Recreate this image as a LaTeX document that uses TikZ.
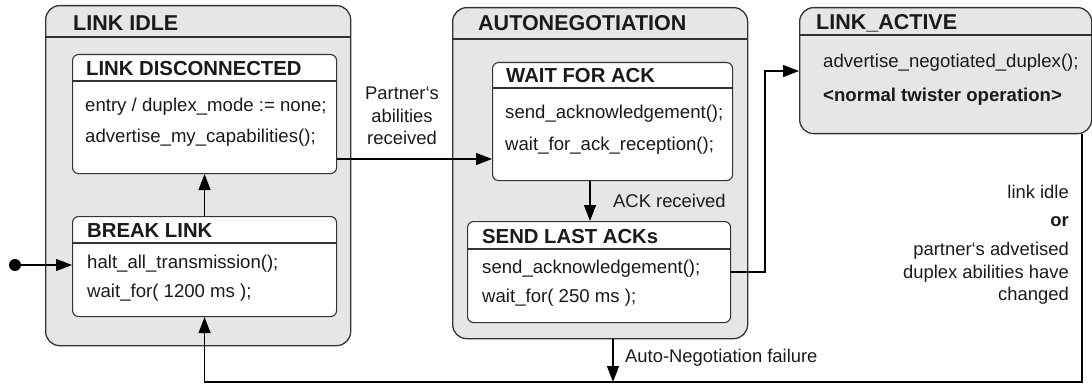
\documentclass[tikz,border=0pt]{standalone}
\usepackage{fontspec}
\setmainfont{Liberation Sans}
\usetikzlibrary{arrows.meta,calc}
\definecolor{stategray}{HTML}{E6E6E6}
\definecolor{edgec}{HTML}{333333}
\definecolor{inkc}{HTML}{1A1A1A}
\begin{document}
\begin{tikzpicture}[x=1pt,y=-1pt,
  outerstate/.style={draw=edgec, line width=1.3pt, fill=stategray, rounded corners=14pt,
    anchor=north west, inner sep=0pt},
  innerstate/.style={draw=edgec, line width=1.1pt, fill=white, rounded corners=6pt,
    anchor=north west, inner sep=0pt},
  sep/.style={draw=edgec, line width=1.1pt},
  bigtitle/.style={font=\fontsize{21.5}{24}\selectfont\bfseries, text=inkc, anchor=west, inner sep=0pt},
  smalltitle/.style={font=\fontsize{20.3}{23}\selectfont\bfseries, text=inkc, anchor=west, inner sep=0pt},
  body/.style={font=\fontsize{18.6}{22}\selectfont, text=inkc, anchor=west, inner sep=0pt},
  lbl/.style={font=\fontsize{18.4}{22.5}\selectfont, text=inkc, inner sep=0pt},
  rlbl/.style={lbl, anchor=base east},
  flow/.style={draw=black, line width=1.2pt, -{Triangle[length=16pt,width=12pt]}}]

\useasboundingbox (0,0) rectangle (1092,385);

% ---------- LINK IDLE ----------
\node[outerstate, minimum width=305pt, minimum height=340pt] (idle) at (45,5) {};
\draw[sep] (45,37) -- (350,37);
\node[bigtitle] (idleT) at (73,23) {LINK IDLE};

\node[innerstate, minimum width=264pt, minimum height=119pt] (disc) at (72,54) {};
\draw[sep] (72,81) -- (336,81);
\node[smalltitle] (discT) at (86,69) {LINK DISCONNECTED};
\node[body] (disc1) at (85,107) {entry / duplex\_mode := none;};
\node[body] (disc2) at (85,138) {advertise\_my\_capabilities();};

\node[innerstate, minimum width=264pt, minimum height=100pt] (break) at (72,216) {};
\draw[sep] (72,243) -- (336,243);
\node[smalltitle] (breakT) at (87,231) {BREAK LINK};
\node[body] (break1) at (87,264) {halt\_all\_transmission();};
\node[body] (break2) at (87,293) {wait\_for( 1200 ms );};

% ---------- AUTONEGOTIATION ----------
\node[outerstate, minimum width=295pt, minimum height=331pt] (auto) at (452,7) {};
\draw[sep] (452,39) -- (747,39);
\node[bigtitle] (autoT) at (478,23) {AUTONEGOTIATION};

\node[innerstate, minimum width=240pt, minimum height=118pt] (wait) at (492,62) {};
\draw[sep] (492,88) -- (732,88);
\node[smalltitle] (waitT) at (506,76) {WAIT FOR ACK};
\node[body] (wait1) at (505,114) {send\_acknowledgement();};
\node[body] (wait2) at (505,146) {wait\_for\_ack\_reception();};

\node[innerstate, minimum width=263pt, minimum height=101pt] (send) at (467,221) {};
\draw[sep] (467,249) -- (730,249);
\node[smalltitle] (sendT) at (482,237) {SEND LAST ACKs};
\node[body] (send1) at (482,269) {send\_acknowledgement();};
\node[body] (send2) at (482,298) {wait\_for( 250 ms );};

% ---------- LINK_ACTIVE ----------
\node[outerstate, minimum width=292pt, minimum height=126pt] (active) at (799,7) {};
\draw[sep] (799,35) -- (1091,35);
\node[bigtitle] (activeT) at (816,23) {LINK\_ACTIVE};
\node[body] (active1) at (823,63) {advertise\_negotiated\_duplex();};
\node[body, font=\fontsize{18.6}{22}\selectfont\bfseries] (active2) at (823,97) {<normal twister operation>};

% ---------- transitions ----------
\node[circle, fill=black, inner sep=0pt, minimum size=12pt] (init) at (15,265) {};
\draw[flow] (init) -- (init -| break.west);

\draw[flow] (break.north) -- (disc.south);

\coordinate (pa) at (0,159);
\draw[flow] (disc.east |- pa) -- (wait.west |- pa);
\node[lbl, align=center] (paL) at (402,116) {Partner‘s\\abilities\\received};

\coordinate (ackx) at (590,0);
\draw[flow] (wait.south -| ackx) -- (send.north -| ackx);
\node[lbl, anchor=west] (ackL) at (613,201) {ACK received};

\coordinate (sa) at (0,272);
\coordinate (bend) at (765,71);
\draw[flow] (send.east |- sa) -| (bend) -- (active.west |- bend);

\coordinate (rx) at (1082,0);
\coordinate (bot) at (0,382);
\draw[flow] (active.south -| rx) -- (rx |- bot) -- (break.south |- bot) -- (break.south);

\coordinate (fx) at (613,0);
\draw[flow] (auto.south -| fx) -- (fx |- bot);
\node[lbl, anchor=west] (failL) at (625,358) {Auto-Negotiation failure};

% guard of the return transition, one node per printed line
\node[rlbl] (idleL1) at (1069,198) {link idle};
\node[rlbl, font=\fontsize{18.4}{22.5}\selectfont\bfseries] (idleL2) at (1069,226) {or};
\node[rlbl] (idleL3) at (1069,255) {partner‘s advetised};
\node[rlbl] (idleL4) at (1069,278) {duplex abilities have};
\node[rlbl] (idleL5) at (1069,300) {changed};
\end{tikzpicture}
\end{document}
